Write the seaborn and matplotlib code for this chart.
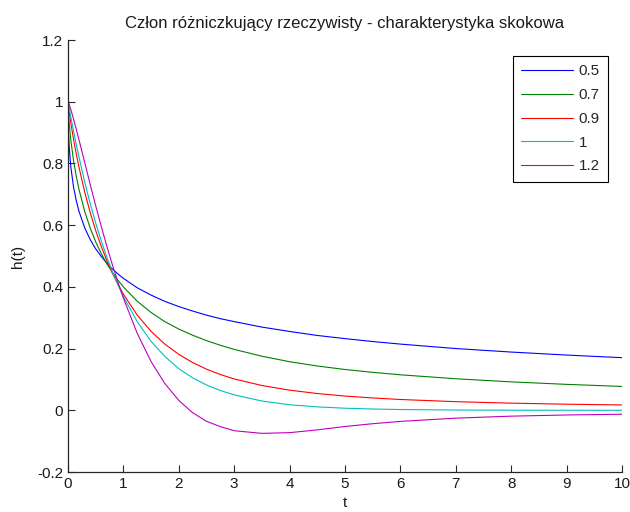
import matplotlib
matplotlib.use("Agg")
import matplotlib.pyplot as plt
import seaborn as sns
import pandas as pd

# time samples
t = [0, 0.005, 0.01, 0.02, 0.05, 0.1, 0.15, 0.2, 0.3, 0.4, 0.5, 0.6, 0.7, 0.8, 0.9,
     1.0, 1.25, 1.5, 1.75, 2.0, 2.25, 2.5, 2.75, 3.0, 3.5, 4.0, 4.5, 5.0, 5.5, 6.0,
     7.0, 8.0, 9.0, 10.0]

# step responses for each order
h_05 = [1.0, 0.925, 0.896, 0.8585, 0.790, 0.7236, 0.6787, 0.6438, 0.5921, 0.5536,
        0.5231, 0.4987, 0.4771, 0.4582, 0.4420, 0.4276, 0.3969, 0.3733, 0.3528,
        0.3362, 0.3216, 0.3083, 0.2969, 0.2874, 0.2696, 0.2554, 0.2425, 0.2323,
        0.2228, 0.2145, 0.2001, 0.1887, 0.1790, 0.1705]
h_07 = [1.0, 0.9735, 0.9574, 0.9321, 0.8762, 0.8092, 0.7573, 0.7144, 0.6453, 0.5907,
        0.5458, 0.5078, 0.4753, 0.4469, 0.4219, 0.3996, 0.3533, 0.3169, 0.2870,
        0.2632, 0.2432, 0.2258, 0.2106, 0.1974, 0.1752, 0.1574, 0.1435, 0.1322,
        0.1230, 0.1150, 0.1022, 0.0921, 0.0840, 0.0773]
h_09 = [1.0, 0.9912, 0.9837, 0.9698, 0.9325, 0.8781, 0.8297, 0.7863, 0.7081, 0.6411,
        0.5826, 0.5311, 0.4855, 0.4449, 0.4086, 0.3761, 0.3083, 0.2556, 0.2142,
        0.1812, 0.1547, 0.1333, 0.1159, 0.1015, 0.0803, 0.0652, 0.0543, 0.0461,
        0.0399, 0.0350, 0.0279, 0.0231, 0.0197, 0.0173]
h_10 = [1.0, 0.995, 0.990, 0.980, 0.951, 0.905, 0.861, 0.819, 0.741, 0.670,
        0.607, 0.549, 0.497, 0.449, 0.407, 0.368, 0.287, 0.223, 0.174,
        0.135, 0.105, 0.082, 0.064, 0.050, 0.030, 0.018, 0.011, 0.0067,
        0.0041, 0.0025, 0.0009, 0.0003, 0.0001, 0.00005]
h_12 = [1.0, 0.9984, 0.9964, 0.9917, 0.9753, 0.9441, 0.9103, 0.8753, 0.8043, 0.7323,
        0.6627, 0.5958, 0.5322, 0.4722, 0.4159, 0.3635, 0.2492, 0.1576, 0.0861,
        0.0320, -0.0078, -0.0358, -0.0530, -0.0662, -0.0748, -0.0725, -0.0635,
        -0.0525, -0.0435, -0.0360, -0.0255, -0.0190, -0.0152, -0.0128]

series_labels = ["0.5", "0.7", "0.9", "1", "1.2"]
series_values = [h_05, h_07, h_09, h_10, h_12]
colors = ["#0000ff", "#008000", "#ff0000", "#00bfbf", "#bf00bf"]

x_ticks = [0, 1, 2, 3, 4, 5, 6, 7, 8, 9, 10]
y_ticks = [-0.2, 0, 0.2, 0.4, 0.6, 0.8, 1.0, 1.2]
y_tick_labels = ["-0.2", "0", "0.2", "0.4", "0.6", "0.8", "1", "1.2"]

title = "Człon różniczkujący rzeczywisty - charakterystyka skokowa"

sns.set_theme(style="white")
plt.rcParams["font.family"] = ["Liberation Sans", "DejaVu Sans"]
fs = 11

fig = plt.figure(figsize=(6.3, 5.12), dpi=100)
fig.patch.set_facecolor("white")
ax = fig.add_axes([68 / 630, 40 / 512, 554 / 630, 432 / 512])

for lbl, vals, c in zip(series_labels, series_values, colors):
    df = pd.DataFrame({"t": t, "h": vals})
    sns.lineplot(data=df, x="t", y="h", color=c, label=lbl, ax=ax,
                 linewidth=0.8, sort=False, estimator=None)

ax.set_xlim(0, 10)
ax.set_ylim(-0.2, 1.2)
ax.set_xticks(x_ticks)
ax.set_xticklabels([str(v) for v in x_ticks], fontsize=fs)
ax.set_yticks(y_ticks)
ax.set_yticklabels(y_tick_labels, fontsize=fs)
ax.tick_params(direction="in", length=5, width=0.8, color="#262626",
               top=False, right=False, bottom=True, left=True, pad=3.5,
               labelcolor="#1a1a1a")
for side in ["top", "right"]:
    ax.spines[side].set_visible(False)
for side in ["left", "bottom"]:
    ax.spines[side].set_color("#262626")
    ax.spines[side].set_linewidth(0.9)

ax.set_xlabel("t", fontsize=fs, labelpad=4, color="#1a1a1a")
ax.set_ylabel("h(t)", fontsize=fs, labelpad=9, color="#1a1a1a")
ax.set_title(title, fontsize=12, pad=8.6, color="#1a1a1a")

leg = ax.legend(loc="upper right", bbox_to_anchor=(0.9747, 0.963),
                borderaxespad=0, fontsize=fs, frameon=True, fancybox=False,
                edgecolor="black", framealpha=1, handlelength=3.4,
                handletextpad=0.33, labelspacing=0.64, borderpad=0.55)
leg.get_frame().set_linewidth(0.8)

fig.savefig("out.png", dpi=100, facecolor="white")
